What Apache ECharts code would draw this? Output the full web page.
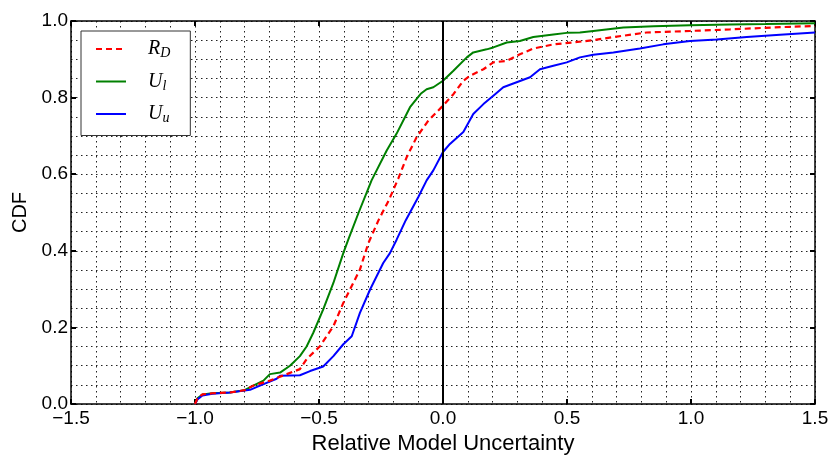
<!DOCTYPE html>
<html>
<head>
<meta charset="utf-8">
<script src="https://cdn.jsdelivr.net/npm/echarts@6/dist/echarts.min.js"></script>
<style>
  html, body { margin: 0; padding: 0; background: #fff; }
  #chart { width: 835px; height: 457px; }
</style>
</head>
<body>
<div id="chart"></div>
<script>
  // R_D (red dashed)
  var rdX = [-1.0, -0.99, -0.97, -0.93, -0.86, -0.80, -0.765, -0.698, -0.63, -0.577, -0.55, -0.496, -0.442, -0.402, -0.375, -0.335, -0.301, -0.26, -0.22, -0.18, -0.146, -0.106, -0.059, 0.0, 0.042, 0.082, 0.109, 0.163, 0.203, 0.257, 0.31, 0.364, 0.445, 0.525, 0.606, 0.687, 0.821, 0.996, 1.157, 1.359, 1.5]
  var rdY = [0.0, 0.015, 0.025, 0.028, 0.03, 0.036, 0.048, 0.061, 0.078, 0.091, 0.117, 0.151, 0.203, 0.264, 0.299, 0.351, 0.42, 0.48, 0.53, 0.589, 0.645, 0.697, 0.74, 0.779, 0.809, 0.844, 0.857, 0.874, 0.892, 0.896, 0.913, 0.928, 0.939, 0.944, 0.95, 0.958, 0.97, 0.974, 0.978, 0.984, 0.987]

  // U_l (green)
  var ulX = [-1.0, -0.99, -0.97, -0.93, -0.86, -0.80, -0.765, -0.724, -0.698, -0.657, -0.617, -0.577, -0.55, -0.523, -0.483, -0.442, -0.402, -0.382, -0.34, -0.288, -0.227, -0.187, -0.133, -0.09, -0.066, -0.039, 0.0, 0.042, 0.096, 0.122, 0.176, 0.203, 0.257, 0.31, 0.364, 0.445, 0.499, 0.552, 0.606, 0.727, 0.85, 0.996, 1.157, 1.3, 1.5]
  var ulY = [0.0, 0.015, 0.025, 0.028, 0.03, 0.036, 0.048, 0.061, 0.078, 0.082, 0.1, 0.125, 0.15, 0.186, 0.247, 0.316, 0.394, 0.429, 0.5, 0.584, 0.662, 0.706, 0.775, 0.81, 0.822, 0.827, 0.844, 0.87, 0.905, 0.918, 0.926, 0.931, 0.944, 0.948, 0.958, 0.965, 0.969, 0.97, 0.974, 0.983, 0.986, 0.989, 0.991, 0.992, 0.994]

  // U_u (blue)
  var uuX = [-1.0, -0.99, -0.97, -0.93, -0.86, -0.778, -0.738, -0.671, -0.657, -0.577, -0.536, -0.483, -0.442, -0.402, -0.368, -0.335, -0.294, -0.241, -0.214, -0.187, -0.15, -0.1, -0.066, -0.039, 0.0, 0.028, 0.082, 0.122, 0.163, 0.203, 0.243, 0.297, 0.351, 0.391, 0.445, 0.499, 0.552, 0.606, 0.687, 0.794, 0.888, 0.996, 1.104, 1.225, 1.359, 1.5]
  var uuY = [0.0, 0.012, 0.022, 0.027, 0.03, 0.037, 0.048, 0.066, 0.074, 0.075, 0.086, 0.098, 0.125, 0.156, 0.177, 0.238, 0.299, 0.368, 0.394, 0.429, 0.48, 0.54, 0.584, 0.61, 0.658, 0.679, 0.71, 0.757, 0.783, 0.805, 0.827, 0.84, 0.853, 0.874, 0.883, 0.892, 0.905, 0.912, 0.918, 0.928, 0.939, 0.948, 0.952, 0.958, 0.964, 0.97]

  var names = ['R_D', 'U_l', 'U_u']
  var legendRich = {
    'R_D': '{i|R}{s|D}',
    'U_l': '{i|U}{s|l}',
    'U_u': '{i|U}{s|u}'
  }

  function pairs(xs, ys) {
    return xs.map(function (x, i) { return [x, ys[i]] })
  }

  var font = 'Liberation Sans, Arial, sans-serif'
  var dotted = {type: [1.5, 3.5], color: '#222', width: 1}

  var chart = echarts.init(document.getElementById('chart'))

  chart.setOption({
    animation: false,
    backgroundColor: '#fff',
    grid: {left: 71, right: 20, top: 21, bottom: 53, outerBoundsMode: 'none'},
    legend: {
      orient: 'vertical',
      left: 81,
      top: 31,
      data: names,
      backgroundColor: '#fff',
      borderColor: '#333',
      borderWidth: 1,
      borderRadius: 0,
      padding: [8, 20, 10, 14],
      itemWidth: 30,
      itemHeight: 14,
      itemGap: 11,
      itemStyle: {opacity: 0},
      formatter: function (n) { return legendRich[n] },
      textStyle: {
        rich: {
          i: {fontFamily: 'Liberation Serif, serif', fontStyle: 'italic', fontSize: 20, color: '#000', padding: [0, 0, 0, 17]},
          s: {fontFamily: 'Liberation Serif, serif', fontStyle: 'italic', fontSize: 14, color: '#000', padding: [9, 0, 0, 0]}
        }
      }
    },
    xAxis: [{
      type: 'value',
      min: -1.5, max: 1.5, interval: 0.5,
      name: 'Relative Model Uncertainty',
      nameLocation: 'middle',
      nameGap: 27,
      nameTextStyle: {fontFamily: font, fontSize: 22, color: '#000'},
      axisLine: {show: true, onZero: false, lineStyle: {color: '#000', width: 1.5}},
      axisTick: {show: true, inside: true, length: 5, lineStyle: {color: '#000', width: 2}},
      axisLabel: {
        fontFamily: font, fontSize: 19, color: '#000', margin: 5,
        formatter: function (v) { return v.toFixed(1).replace('-', '\u2212') }
      },
      splitLine: {show: true, lineStyle: dotted},
      minorTick: {show: false, splitNumber: 5},
      minorSplitLine: {show: true, lineStyle: dotted}
    }, {
      type: 'value',
      position: 'top',
      min: -1.5, max: 1.5, interval: 0.5,
      axisLine: {show: true, onZero: false, lineStyle: {color: '#000', width: 1.5}},
      axisTick: {show: true, inside: true, length: 5, lineStyle: {color: '#000', width: 2}},
      axisLabel: {show: false},
      splitLine: {show: false}
    }],
    yAxis: [{
      type: 'value',
      min: 0, max: 1, interval: 0.2,
      name: 'CDF',
      nameLocation: 'middle',
      nameGap: 40,
      nameTextStyle: {fontFamily: font, fontSize: 20, color: '#000'},
      axisLine: {show: true, onZero: false, lineStyle: {color: '#000', width: 1.5}},
      axisTick: {show: true, inside: true, length: 5, lineStyle: {color: '#000', width: 2}},
      axisLabel: {
        fontFamily: font, fontSize: 19, color: '#000', margin: 3,
        formatter: function (v) { return v.toFixed(1) }
      },
      splitLine: {show: true, lineStyle: dotted},
      minorTick: {show: false, splitNumber: 4},
      minorSplitLine: {show: true, lineStyle: dotted}
    }, {
      type: 'value',
      position: 'right',
      min: 0, max: 1, interval: 0.2,
      axisLine: {show: true, onZero: false, lineStyle: {color: '#000', width: 1.5}},
      axisTick: {show: true, inside: true, length: 5, lineStyle: {color: '#000', width: 2}},
      axisLabel: {show: false},
      splitLine: {show: false}
    }],
    series: [{
      name: 'R_D',
      type: 'line',
      symbol: 'none',
      z: 4,
      data: pairs(rdX, rdY),
      lineStyle: {color: '#ff0000', width: 2.2, type: [6, 4]},
      itemStyle: {color: '#ff0000'},
      markLine: {
        silent: true,
        symbol: 'none',
        label: {show: false},
        lineStyle: {color: '#000', width: 2, type: 'solid'},
        data: [{xAxis: 0}]
      }
    }, {
      name: 'U_l',
      type: 'line',
      symbol: 'none',
      z: 3,
      data: pairs(ulX, ulY),
      lineStyle: {color: '#008000', width: 2},
      itemStyle: {color: '#008000'}
    }, {
      name: 'U_u',
      type: 'line',
      symbol: 'none',
      z: 3,
      data: pairs(uuX, uuY),
      lineStyle: {color: '#0000ff', width: 2},
      itemStyle: {color: '#0000ff'}
    }]
  })
</script>
</body>
</html>
